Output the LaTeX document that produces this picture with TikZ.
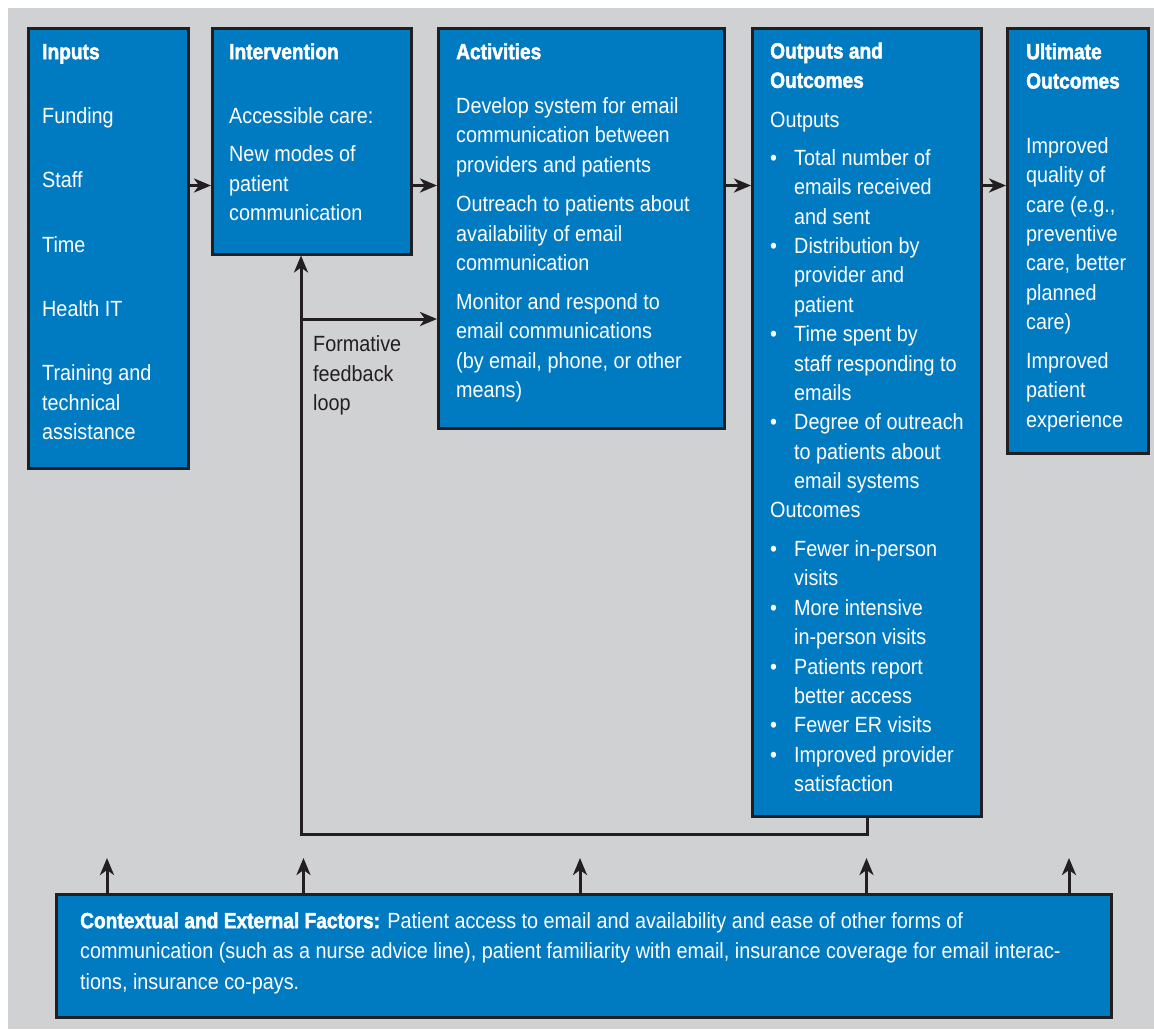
\documentclass[tikz,border=0pt]{standalone}
\usepackage{fontspec}
\setmainfont{Liberation Sans}[FakeStretch=0.9,BoldFeatures={FakeBold=2,FakeStretch=0.87}]
\usetikzlibrary{arrows.meta}
\definecolor{boxblue}{RGB}{0,122,193}
\definecolor{bggray}{RGB}{208,209,211}
\definecolor{ink}{RGB}{35,31,32}
\newcommand\bul{\makebox[24pt][l]{\textbullet}}
\newcommand\ind{\hspace*{24pt}}
\begin{document}
\begin{tikzpicture}[x=1pt,y=-1pt,
  box/.style={draw=ink,fill=boxblue,line width=3pt,inner sep=0pt,anchor=north west,rectangle},
  txt/.style={anchor=north west,inner sep=0pt,align=left,text=white,font=\fontsize{22}{29.35}\selectfont},
  conn/.style={draw=ink,line width=3pt},
  arr/.style={conn,-{Stealth[length=17pt,width=14pt,inset=5pt]}}]
\useasboundingbox (0,0) rectangle (1154,1029);
\fill[bggray] (8,8) rectangle (1154,1029);

% boxes
\node[box,minimum width=160pt,minimum height=439.5pt] (inputs) at (27,27) {};
\node[box,minimum width=199pt,minimum height=225.5pt] (intervention) at (211,27) {};
\node[box,minimum width=286pt,minimum height=400pt] (activities) at (437,27) {};
\node[box,minimum width=229pt,minimum height=788pt] (outputs) at (751,27) {};
\node[box,minimum width=141pt,minimum height=424.5pt] (ultimate) at (1006,27) {};
\node[box,minimum width=1055pt,minimum height=123pt] (context) at (55,893) {};

% texts
\node[txt] (tin) at (42,38.45) {\strut\textbf{Inputs}\\[35pt]Funding\\[35pt]Staff\\[35pt]Time\\[35pt]Health IT\\[35pt]Training and\\technical\\assistance};

\node[txt] (tiv) at (229,38.45) {\strut\textbf{Intervention}\\[35.4pt]Accessible care:\\[8.4pt]New modes of\\patient\\communication};

\node[txt] (tac) at (456,38.45) {\strut\textbf{Activities}\\[24.9pt]Develop system for email\\communication between\\providers and patients\\[10.4pt]Outreach to patients about\\availability of email\\communication\\[9.6pt]Monitor and respond to\\email communications\\(by email, phone, or other\\means)};

\node[txt] (tou) at (770,37.75) {\strut\textbf{Outputs and}\\\textbf{Outcomes}\\[10pt]Outputs\\[9pt]\bul Total number of\\\ind emails received\\\ind and sent\\\bul Distribution by\\\ind provider and\\\ind patient\\\bul Time spent by\\\ind staff responding to\\\ind emails\\\bul Degree of outreach\\\ind to patients about\\\ind email systems\\Outcomes\\[9.5pt]\bul Fewer in-person\\\ind visits\\\bul More intensive\\\ind in-person visits\\\bul Patients report\\\ind better access\\\bul Fewer ER visits\\\bul Improved provider\\\ind satisfaction};

\node[txt] (tul) at (1026,38.45) {\strut\textbf{Ultimate}\\\textbf{Outcomes}\\[35.5pt]Improved\\quality of\\care (e.g.,\\preventive\\care, better\\planned\\care)\\[9.7pt]Improved\\patient\\experience};

\node[txt,text=ink] (tfb) at (313,331.15) {\strut Formative\\feedback\\loop};

\node[txt,font=\fontsize{22}{30.5}\selectfont] (tcx) at (80,906.65) {\strut\textbf{Contextual and External Factors:} Patient access to email and availability and ease of other forms of\\communication (such as a nurse advice line), patient familiarity with email, insurance coverage for email interac-\\tions, insurance co-pays.};

% main flow arrows
\coordinate (ya) at (0,185.5);
\draw[arr] (inputs.east |- ya) -- (intervention.west |- ya);
\draw[arr] (intervention.east |- ya) -- (activities.west |- ya);
\draw[arr] (activities.east |- ya) -- (outputs.west |- ya);
\draw[arr] (outputs.east |- ya) -- (ultimate.west |- ya);

% feedback loop
\coordinate (fbc) at (301,834);
\coordinate (fbb) at (301,319);
\draw[arr] (outputs.south) |- (fbc) -- (fbc |- intervention.south);
\draw[arr] (fbb) -- (fbb -| activities.west);

% contextual factor arrows
\foreach \x [count=\i] in {107,303.5,580,866.5,1069}{
  \coordinate (cx\i) at (\x,858);
  \draw[arr] (context.north -| cx\i) -- (cx\i);
}
\end{tikzpicture}
\end{document}
